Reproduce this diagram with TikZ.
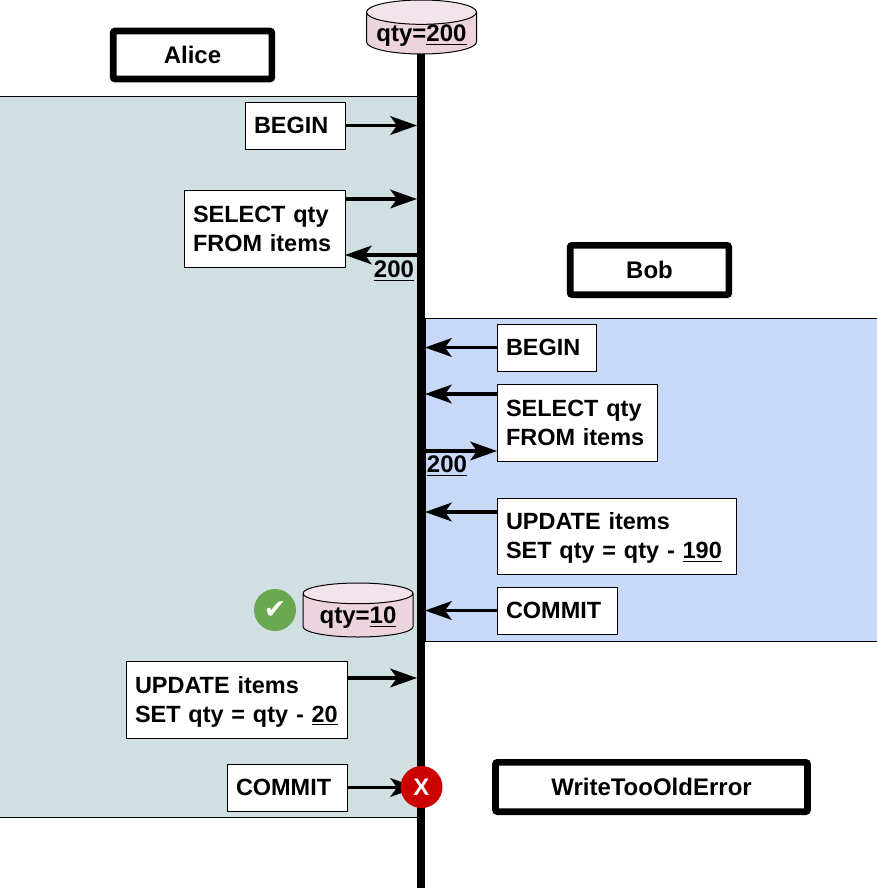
\documentclass[tikz,border=0pt]{standalone}
\usepackage{fontspec}
\setmainfont{Liberation Sans}
\newfontfamily\symfont{DejaVu Sans}
\newfontfamily\stmtfont[WordSpace=0.88]{Liberation Sans}
\usetikzlibrary{arrows.meta,shapes.geometric}
\definecolor{alicebg}{RGB}{208,223,226}
\definecolor{bobbg}{RGB}{199,217,247}
\definecolor{dbbody}{RGB}{237,211,221}
\definecolor{dbtop}{RGB}{243,228,235}
\definecolor{okgreen}{RGB}{106,168,79}
\definecolor{failred}{RGB}{204,0,0}
\tikzset{
  stmtbox/.style={draw,fill=white,line width=0.75pt,align=left,inner xsep=6.75pt,inner ysep=0pt,
    font=\fontsize{17.6pt}{21.8pt}\stmtfont\bfseries},
  namebox/.style={draw,fill=white,line width=5pt,rounded corners=1.5pt,align=center,
    font=\fontsize{18pt}{20pt}\selectfont\bfseries},
  regionbox/.style={draw,line width=0.75pt},
  dbstore/.style={cylinder,shape border rotate=90,draw,line width=0.75pt,aspect=0.27,inner sep=0pt,text depth=0pt,
    anchor=shape center,cylinder uses custom fill,cylinder body fill=dbbody,cylinder end fill=dbtop,
    minimum width=82.5pt,minimum height=40.5pt,
    font=\fontsize{18pt}{20pt}\selectfont\bfseries},
  readlabel/.style={inner sep=0pt,font=\fontsize{18pt}{20pt}\selectfont\bfseries},
  badge/.style={circle,inner sep=0pt,minimum size=31.5pt,text=white},
  msg/.style={line width=2.4pt,-{Stealth[length=20pt,width=14pt,inset=5pt]}},
}
\begin{document}
\begin{tikzpicture}[x=0.75pt,y=-0.75pt]
  \useasboundingbox (0,0) rectangle (877,890);
  %% Regions
  \node[regionbox,fill=alicebg,minimum width=313.5pt,minimum height=540.75pt,inner sep=0pt] (aliceregion) at (208.5,456.5) {};
  \node[regionbox,fill=bobbg,minimum width=339pt,minimum height=242.25pt,inner sep=0pt] (bobregion) at (651,479.5) {};
  %% Timeline
  \coordinate (axistop) at (421,40);
  \coordinate (axisbot) at (421,888);
  \draw[line width=6pt] (axistop) -- (axisbot);
  \coordinate (axisL) at (417,0);
  \coordinate (axisR) at (425,0);
  %% Names
  \node[namebox,minimum width=119pt,minimum height=36pt] (alice) at (192.5,55) {Alice};
  \node[namebox,minimum width=119pt,minimum height=37pt] (bob) at (649.5,270) {Bob};
  \node[namebox,minimum width=234pt,minimum height=37pt] (wtoe) at (651.5,787) {WriteTooOldError};
  %% Alice statements
  \node[stmtbox,text width=61.5pt,minimum height=35.25pt] (beginA) at (295,125.5) {BEGIN};
  \node[stmtbox,text width=107.25pt,minimum height=57.75pt] (selectA) at (264.5,228.5) {SELECT qty\\FROM items};
  \node[stmtbox,text width=152.25pt,minimum height=57.75pt] (updateA) at (236.5,699.5) {\rule{0pt}{16pt}UPDATE items\\SET qty = qty - \underline{20}};
  \node[stmtbox,text width=76.5pt,minimum height=35.25pt] (commitA) at (287,787.5) {COMMIT};
  %% Bob statements
  \node[stmtbox,text width=60.75pt,minimum height=35.25pt] (beginB) at (546.5,347.5) {BEGIN};
  \node[stmtbox,text width=106.5pt,minimum height=57.75pt] (selectB) at (577,422.5) {SELECT qty\\FROM items};
  \node[stmtbox,text width=165.75pt,minimum height=57pt] (updateB) at (616.5,536) {\rule{0pt}{16pt}UPDATE items\\SET qty = qty - \underline{190}};
  \node[stmtbox,text width=76.5pt,minimum height=35.25pt] (commitB) at (557,610.5) {COMMIT};
  %% Alice arrows
  \draw[msg] (beginA.east) -- (beginA.east -| axisL);
  \coordinate (selectAout) at (345,199);
  \coordinate (selectAin) at (345,255);
  \coordinate (updateAout) at (347,678);
  \draw[msg] (selectAout) -- (selectAout -| axisL);
  \draw[msg] (selectAin -| axisL) -- (selectAin);
  \draw[msg] (updateAout) -- (updateAout -| axisL);
  \draw[msg] (commitA.east) -- (commitA.east -| axisL);
  %% Bob arrows
  \draw[msg] (beginB.west) -- (beginB.west -| axisR);
  \coordinate (selectBout) at (497,394);
  \coordinate (selectBin) at (497,451);
  \coordinate (updateBout) at (497,512);
  \draw[msg] (selectBout) -- (selectBout -| axisR);
  \draw[msg] (selectBin -| axisR) -- (selectBin);
  \draw[msg] (updateBout) -- (updateBout -| axisR);
  \draw[msg] (commitB.west) -- (commitB.west -| axisR);
  %% Read values
  \node[readlabel] (readA) at (394,271) {\underline{200}};
  \node[readlabel] (readB) at (447,466) {\underline{200}};
  %% Stores
  \node[dbstore] (dbstart) at (421.5,27) {qty=\underline{200}};
  \node[dbstore] (dbend) at (358,610) {qty=\underline{10}};
  %% Outcomes
  \node[badge,fill=okgreen,font=\fontsize{20pt}{20pt}\selectfont\symfont] (okmark) at (275,610) {✔};
  \node[badge,fill=failred,font=\fontsize{18pt}{20pt}\selectfont\bfseries] (failmark) at (421.5,787) {X};
\end{tikzpicture}
\end{document}
